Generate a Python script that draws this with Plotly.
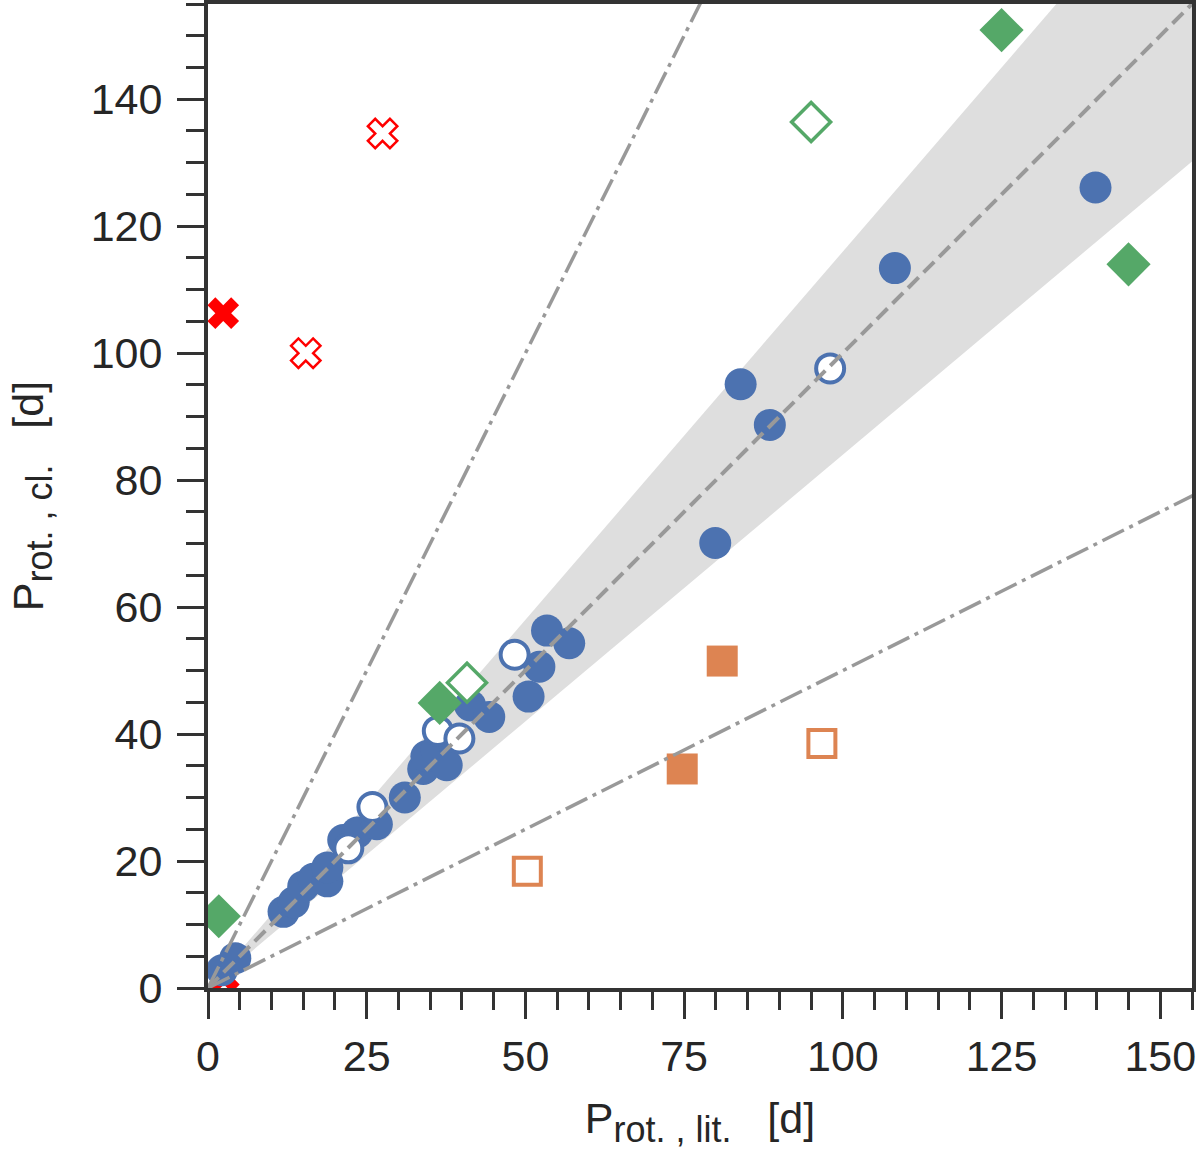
import plotly.graph_objects as go

# rotation periods: literature (x) vs. this work (y), in days
blue_x = [2.2, 4.3, 11.9, 13.5, 15.0, 16.6, 18.8, 18.8, 21.3, 23.5, 26.6, 31.0, 33.9, 34.4,
          36.0, 37.6, 41.3, 44.3, 50.5, 52.2, 53.4, 56.9, 79.9, 83.9, 88.5, 108.2, 139.8]
blue_y = [2.8, 4.7, 12.0, 13.5, 16.0, 17.2, 16.8, 19.0, 23.3, 24.5, 25.8, 30.0, 34.5, 36.5,
          37.5, 35.1, 44.5, 42.7, 45.9, 50.6, 56.3, 54.3, 70.1, 95.1, 88.7, 113.4, 126.1]
blue_open_x = [22.1, 25.9, 36.2, 39.6, 48.3, 98.0]
blue_open_y = [22.0, 28.5, 40.5, 39.3, 52.5, 97.6]

green_x = [1.7, 36.5, 125.0, 145.0]
green_y = [11.3, 44.9, 150.9, 114.0]
green_open_x = [40.8, 95.0]
green_open_y = [48.1, 136.4]

orange_x = [81.0, 74.7]
orange_y = [51.5, 34.5]
orange_open_x = [50.3, 96.7]
orange_open_y = [18.4, 38.5]

red_x = [2.4, 2.5]
red_y = [106.3, 1.8]
red_open_x = [27.5, 15.4]
red_open_y = [134.6, 100.0]

# reference lines and tolerance band (slopes)
slope_lines = [2.0, 0.5]
band = [0.84, 1.16]
axis_max = 155
x_ticks = [0, 25, 50, 75, 100, 125, 150]
y_ticks = [0, 20, 40, 60, 80, 100, 120, 140]

BLUE = "#4C72B0"
GREEN = "#55A868"
ORANGE = "#DD8452"
RED = "#FF0000"
LINE = "#999999"
DARK = "#333333"

fig = go.Figure()

xe = axis_max * 1.5
fig.add_trace(go.Scatter(x=[0, xe, xe, 0], y=[0, xe * band[1], xe * band[0], 0],
                         fill="toself", fillcolor="#DEDEDE", line=dict(width=0),
                         mode="lines", hoverinfo="skip"))

def pts(x, y, symbol, size, color, hollow=False, lw=3.5):
    if hollow:
        marker = dict(symbol=symbol, size=size, color="white", line=dict(color=color, width=lw))
    else:
        marker = dict(symbol=symbol, size=size, color=color, line=dict(width=0))
    fig.add_trace(go.Scatter(x=x, y=y, mode="markers", marker=marker, cliponaxis=True))

pts(red_x, red_y, "x", 28, RED)
pts(red_open_x, red_open_y, "x", 26, RED, hollow=True, lw=2.5)
pts(blue_x, blue_y, "circle", 32, BLUE)
pts(blue_open_x, blue_open_y, "circle", 28, BLUE, hollow=True, lw=4)
pts(orange_x, orange_y, "square", 31, ORANGE)
pts(orange_open_x, orange_open_y, "square", 27, ORANGE, hollow=True, lw=4)
pts(green_x, green_y, "diamond", 34, GREEN)
pts(green_open_x, green_open_y, "diamond", 30, GREEN, hollow=True, lw=3.5)

fig.add_trace(go.Scatter(x=[0, axis_max], y=[0, axis_max], mode="lines",
                         line=dict(color=LINE, width=4, dash="15px,7px")))
for s in slope_lines:
    fig.add_trace(go.Scatter(x=[0, xe], y=[0, xe * s], mode="lines",
                             line=dict(color=LINE, width=3.5, dash="24px,6px,4px,6px")))

axis_common = dict(
    range=[0, axis_max], showgrid=False, zeroline=False, automargin=False,
    showline=True, linecolor=DARK, linewidth=4, mirror=True,
    ticks="outside", ticklen=27, tickwidth=3, tickcolor=DARK,
    minor=dict(ticks="outside", dtick=5, ticklen=18, tickwidth=3, tickcolor=DARK),
    tickfont=dict(size=43, color="#262626", family="Liberation Sans"),
)

sp = "\u00a0"
def ptitle(sub):
    return (f"P<sub><span style='font-size:36px'>rot.{sp},{sp}{sub}</span></sub>"
            f"{sp*3}[d]")

fig.update_layout(
    width=1200, height=1153,
    margin=dict(l=208, r=8, t=4, b=165),
    plot_bgcolor="white", paper_bgcolor="white",
    showlegend=False,
    font=dict(family="Liberation Sans", color="#262626"),
    xaxis=dict(**axis_common, tickvals=x_ticks, ticklabelstandoff=0,
               title=dict(text=ptitle("lit."), font=dict(size=43), standoff=25)),
    yaxis=dict(**axis_common, tickvals=y_ticks, ticklabelstandoff=6,
               title=dict(text=ptitle("cl."), font=dict(size=43), standoff=35)),
)

fig.write_html("out.html", config={"displayModeBar": False},
               post_script="document.body.style.margin='0';")
